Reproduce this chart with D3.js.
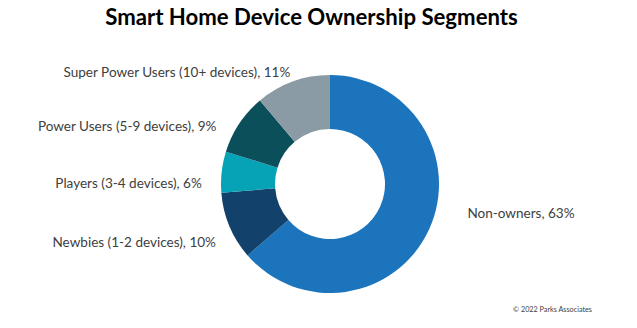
<!DOCTYPE html>
<html><head><meta charset="utf-8">
<script src="https://cdn.jsdelivr.net/npm/d3@7"></script>
<style>body{margin:0;background:#fff}svg{display:block}</style>
</head><body>
<script>
const title = "Smart Home Device Ownership Segments";
const categories = ["Non-owners", "Newbies (1-2 devices)", "Players (3-4 devices)", "Power Users (5-9 devices)", "Super Power Users (10+ devices)"];
const values = [63, 10, 6, 9, 11];
const colors = ["#1c75bc", "#12426c", "#06a2b5", "#0b4f5b", "#8a9ba6"];
const source = "© 2022 Parks Associates";

const W = 637, H = 328;
const cx = 330, cy = 184, R = 109, r = 55;
const FONT = "Lato, 'Open Sans', sans-serif";
const svg = d3.select("body").append("svg").attr("width", W).attr("height", H);

const data = categories.map((c, i) => ({cat: c, value: values[i], color: colors[i]}));
const pie = d3.pie().value(d => d.value).sort(null);
const arc = d3.arc().innerRadius(r).outerRadius(R);
const arcs = pie(data);

const g = svg.append("g").attr("transform", `translate(${cx},${cy})`);
g.selectAll("path").data(arcs).join("path")
  .attr("d", arc).attr("fill", d => d.data.color);

// title
const t = svg.append("text").attr("x", 311.5).attr("y", 25)
  .attr("text-anchor", "middle").attr("font-family", FONT)
  .attr("font-weight", "bold").attr("font-size", 22).attr("fill", "#000").text(title);
const tw = t.node().getComputedTextLength();
t.attr("font-size", 22 * 413 / tw);

// labels
const labelArc = d3.arc().innerRadius(128).outerRadius(128);
const nudge = [[21, -24], [4, 9], [-1, 13], [-7, 13], [4, 8]];
const labels = svg.append("g").attr("transform", `translate(${cx},${cy})`)
  .attr("font-family", FONT).attr("fill", "#404040");
const lt = labels.selectAll("text").data(arcs).join("text")
  .attr("dominant-baseline", "central")
  .text(d => `${d.data.cat}, ${d.data.value}%`);
lt.attr("font-size", 14);
const probe = lt.filter((d, i) => i === 4).node().getComputedTextLength();
const fs = 14 * 227 / probe;
lt.attr("font-size", fs)
  .each(function(d, i) {
    const [x, y] = labelArc.centroid(d);
    const mid = (d.startAngle + d.endAngle) / 2;
    const right = mid < Math.PI;
    d3.select(this).attr("x", x + nudge[i][0]).attr("y", y + nudge[i][1])
      .attr("text-anchor", right ? "start" : "end");
  });

// source
const s = svg.append("text").attr("x", 592).attr("y", 312).attr("text-anchor", "end")
  .attr("font-family", FONT).attr("font-size", 9).attr("fill", "#404040").text(source);
const sw = s.node().getComputedTextLength();
s.attr("font-size", 9 * 79 / sw);
</script>
</body></html>
